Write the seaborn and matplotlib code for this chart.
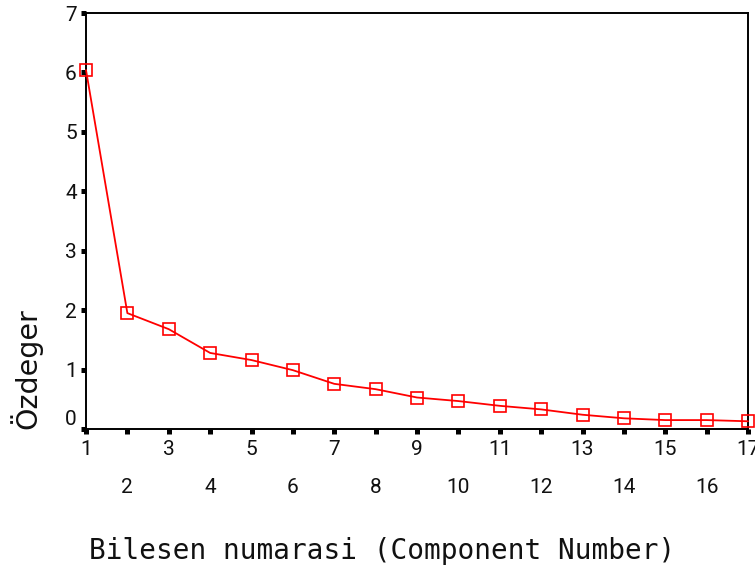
import numpy as np
import pandas as pd
import matplotlib
matplotlib.use("Agg")
import matplotlib.pyplot as plt
from matplotlib.transforms import ScaledTranslation
import seaborn as sns

# scree plot data
components = list(range(1, 18))
eigenvalues = [6.04, 1.95, 1.68, 1.28, 1.16, 0.99, 0.76, 0.67, 0.53,
               0.47, 0.39, 0.33, 0.24, 0.18, 0.15, 0.15, 0.13]
y_ticks = [0, 1, 2, 3, 4, 5, 6, 7]
x_label = "Bilesen numarasi (Component Number)"
y_label = "Özdeger"

sns.set_style("white")
plt.rcParams["font.family"] = ["Roboto", "DejaVu Sans"]

df = pd.DataFrame({"comp": components, "eig": eigenvalues})

fig = plt.figure(figsize=(7.55, 5.68), dpi=100)
ax = fig.add_axes([86 / 755, 1 - 429 / 568, (748 - 86) / 755, (429 - 13) / 568])

sns.lineplot(data=df, x="comp", y="eig", ax=ax, color="red", lw=1.3,
             marker="s", markersize=8.8, mfc="none", mec="red", mew=1.2,
             clip_on=False, zorder=5)

ax.set_xlim(1, 17)
ax.set_ylim(0, 7)

# odd labels on first row, even ones on a second row
odd = [c for c in components if c % 2 == 1]
even = [c for c in components if c % 2 == 0]
ax.set_xticks(odd, labels=[str(c) for c in odd])
ax.set_xticks(even, labels=[str(c) for c in even], minor=True)
ax.set_yticks(y_ticks, labels=[str(v) for v in y_ticks])

ax.tick_params(which="both", direction="out", length=3.6, width=3.6,
               color="black", labelsize=15, labelcolor="#111111",
               bottom=True, left=True, top=False, right=False)
ax.tick_params(axis="x", which="major", pad=4.5)
ax.tick_params(axis="x", which="minor", pad=32)
ax.tick_params(axis="y", pad=3)

# nudge the "0" label up like the original
lab0 = ax.get_yticklabels()[0]
lab0.set_transform(lab0.get_transform() + ScaledTranslation(0, 8 / 72, fig.dpi_scale_trans))

for s in ax.spines.values():
    s.set_visible(True)
    s.set_color("black")
    s.set_linewidth(1.4)

ax.set_xlabel(x_label, fontsize=20, family="DejaVu Sans Mono", color="#111111")
ax.xaxis.set_label_coords((382 - 86) / 662, (429 - 551) / 416)
ax.xaxis.label.set_va("center")

ax.set_ylabel(y_label, fontsize=20.5, family="DejaVu Sans", color="#111111")
ax.yaxis.set_label_coords((26 - 86) / 662, (429 - 369) / 416)
ax.yaxis.label.set_va("center")

ax.grid(False)
fig.savefig("out.png", dpi=100)
